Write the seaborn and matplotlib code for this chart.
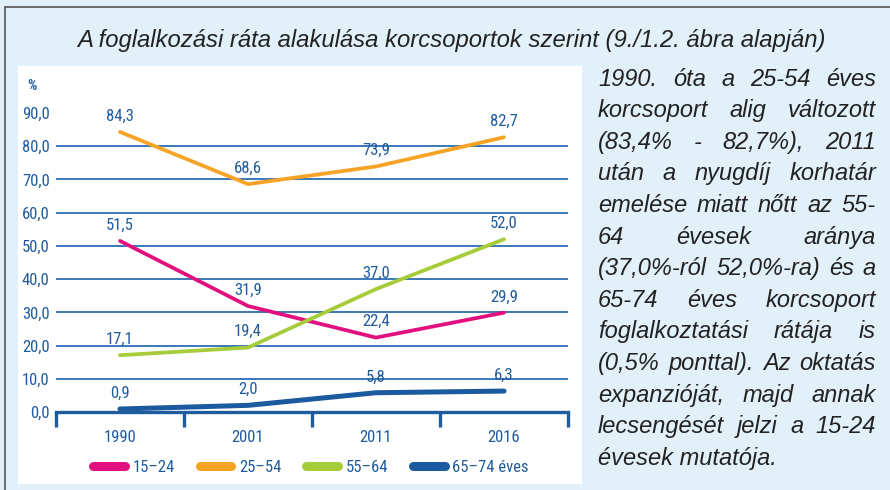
import matplotlib.pyplot as plt
import pandas as pd
import seaborn as sns
from matplotlib import font_manager
from matplotlib.lines import Line2D
from matplotlib.patches import Rectangle

YEARS = ["1990", "2001", "2011", "2016"]
GROUPS = ["15–24", "25–54", "55–64", "65–74 éves"]
RATE_15_24 = [51.5, 31.9, 22.4, 29.9]
RATE_25_54 = [84.3, 68.6, 73.9, 82.7]
RATE_55_64 = [17.1, 19.4, 37.0, 52.0]
RATE_65_74 = [0.9, 2.0, 5.8, 6.3]
Y_TICKS = [0, 10, 20, 30, 40, 50, 60, 70, 80, 90]

TITLE = "A foglalkozási ráta alakulása korcsoportok szerint (9./1.2. ábra alapján)"
NOTE_LINES = [
    "1990. óta a 25-54 éves",
    "korcsoport alig változott",
    "(83,4% - 82,7%), 2011",
    "után a nyugdíj korhatár",
    "emelése miatt nőtt az 55-",
    "64 évesek aránya",
    "(37,0%-ról 52,0%-ra) és a",
    "65-74 éves korcsoport",
    "foglalkoztatási rátája is",
    "(0,5% ponttal). Az oktatás",
    "expanzióját, majd annak",
    "lecsengését jelzi a 15-24",
    "évesek mutatója.",
]

PALETTE = {
    "15–24": "#e2107f",
    "25–54": "#f7a325",
    "55–64": "#a6cc3a",
    "65–74 éves": "#1b5a9f",
}
LINE_WIDTHS = {"15–24": 2.7, "25–54": 2.7, "55–64": 2.7, "65–74 éves": 3.6}
BLUE = "#1f5c9e"
GRID = "#3a78b8"
BG = "#e2f0fa"

W, H = 890, 490


def fx(x):
    return x / W


def fy(y):
    return 1 - y / H


def pick_narrow_font():
    names = {f.name for f in font_manager.fontManager.ttflist}
    for name in ["Liberation Sans Narrow", "Roboto Condensed", "Open Sans Condensed"]:
        if name in names:
            return name
    return "DejaVu Sans"


def justified_text(fig, lines, x0, x1, y0, step, **kw):
    renderer = fig.canvas.get_renderer()
    for k, line in enumerate(lines):
        y = fy(y0 + k * step)
        words = line.split()
        if k == len(lines) - 1 or len(words) == 1:
            fig.text(fx(x0), y, line, va="center", **kw)
            continue
        texts = [fig.text(0, y, w, va="center", **kw) for w in words]
        widths = [t.get_window_extent(renderer).width for t in texts]
        gap = (x1 - x0 - sum(widths)) / (len(words) - 1)
        x = x0
        for t, w in zip(texts, widths):
            t.set_x(fx(x))
            x += w + gap


sns.set_style("white")
plt.rcParams["font.family"] = ["Liberation Sans", "DejaVu Sans"]
NARROW = pick_narrow_font()
narrow = dict(family=NARROW, stretch="condensed")

df = pd.DataFrame({
    "year": YEARS * 4,
    "group": [g for g in GROUPS for _ in YEARS],
    "rate": RATE_15_24 + RATE_25_54 + RATE_55_64 + RATE_65_74,
})

fig = plt.figure(figsize=(W / 100, H / 100), dpi=100)
fig.patch.set_facecolor(BG)

# frame and white chart panel
fig.add_artist(Line2D([fx(5), fx(5)], [fy(7), 0], color="#555555", lw=1.2))
fig.add_artist(Line2D([fx(5), 1], [fy(7), fy(7)], color="#555555", lw=1.2))
fig.add_artist(Rectangle((fx(18), fy(484)), 564 / W, 418 / H,
                         facecolor="white", edgecolor="none", zorder=-1))

ax = fig.add_axes([fx(56), fy(412), 512 / W, (412 - 113) / H])
ax.set_facecolor("none")

sns.lineplot(data=df, x="year", y="rate", hue="group", palette=PALETTE,
             hue_order=GROUPS, sort=False, legend=False, ax=ax, zorder=3)
for line, g in zip(ax.lines, GROUPS):
    line.set_linewidth(LINE_WIDTHS[g])
    line.set_solid_capstyle("round")

for v in Y_TICKS[1:-1]:
    ax.axhline(v, color=GRID, lw=1.4, zorder=1)

ax.set_xlim(-0.5, 3.5)
ax.set_ylim(0, 90)
ax.set_xlabel("")
ax.set_ylabel("")

ax.set_yticks(Y_TICKS, [f"{v:.1f}".replace(".", ",") for v in Y_TICKS])
ax.set_xticks(range(len(YEARS)), YEARS)
ax.set_xticks([i - 0.5 for i in range(len(YEARS) + 1)], minor=True)
ax.tick_params(axis="y", length=0, pad=4.5, labelcolor=BLUE, labelsize=12)
ax.tick_params(axis="x", which="major", bottom=True, length=0, pad=13,
               labelcolor=BLUE, labelsize=12)
ax.tick_params(axis="x", which="minor", bottom=True, length=11, width=2.4,
               color=BLUE, direction="out")
for lab in ax.get_xticklabels() + ax.get_yticklabels():
    lab.set_fontfamily(NARROW)
    lab.set_fontstretch("condensed")

for side in ["left", "top", "right"]:
    ax.spines[side].set_visible(False)
ax.spines["bottom"].set_color(BLUE)
ax.spines["bottom"].set_linewidth(2.4)
ax.spines["bottom"].set_zorder(4)

series = dict(zip(GROUPS, [RATE_15_24, RATE_25_54, RATE_55_64, RATE_65_74]))
for g in GROUPS:
    for i, v in enumerate(series[g]):
        ax.annotate(f"{v:.1f}".replace(".", ","), (i, v), xytext=(0, 6),
                    textcoords="offset points", ha="center", va="bottom",
                    color=BLUE, fontsize=12, zorder=5, **narrow)

fig.text(fx(32), fy(86), "%", ha="center", va="center", color=BLUE,
         fontsize=10.5, fontweight="bold", **narrow)

handles = [Line2D([], [], color=PALETTE[g], lw=6.5, solid_capstyle="round") for g in GROUPS]
fig.legend(handles, GROUPS, loc="center", bbox_to_anchor=(fx(311), fy(467)),
           ncol=4, frameon=False, handlelength=1.9, handletextpad=0.45,
           columnspacing=1.5, prop=dict(family=NARROW, stretch="condensed", size=12),
           labelcolor=BLUE)

fig.text(fx(451), fy(40), TITLE, ha="center", va="center", style="italic",
         fontsize=17.2, color="#222222")

justified_text(fig, NOTE_LINES, 598, 876, 79, 31.6, style="italic",
               fontsize=17, color="#222222")

fig.savefig("out.png", dpi=100, facecolor=BG)
